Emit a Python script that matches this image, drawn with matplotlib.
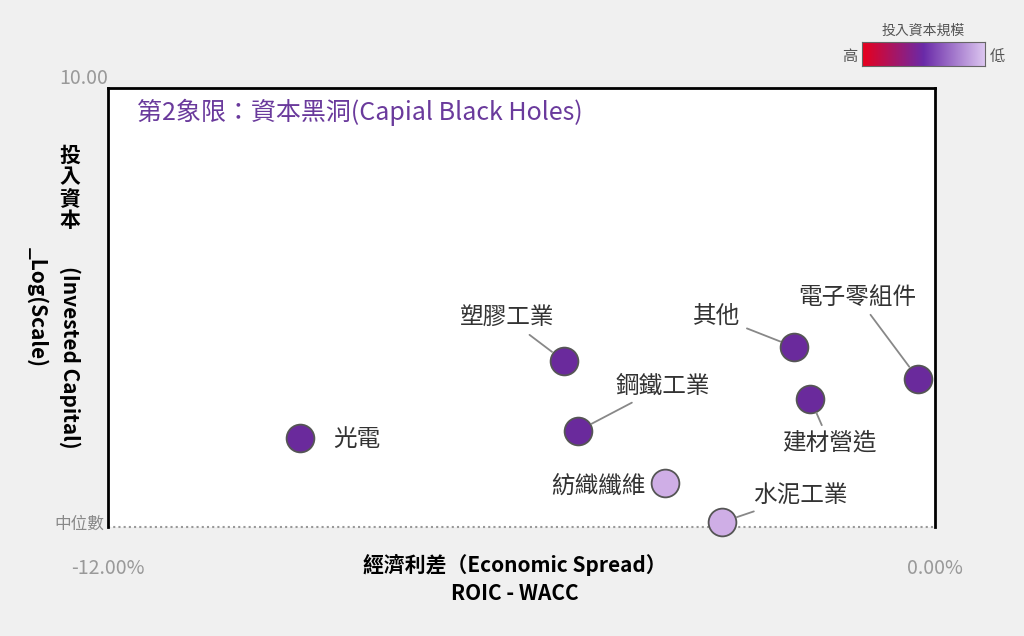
import matplotlib
matplotlib.use("Agg")
import matplotlib.pyplot as plt
import numpy as np
from matplotlib.colors import LinearSegmentedColormap

plt.rcParams['font.family'] = ['Noto Sans CJK TC', 'DejaVu Sans']

industries = ["光電", "塑膠工業", "鋼鐵工業", "紡織纖維", "水泥工業", "其他", "建材營造", "電子零組件"]
spread = [-9.21, -5.38, -5.18, -3.92, -3.09, -2.04, -1.81, -0.24]
log_capital = [2.03, 3.78, 2.19, 1.00, 0.11, 4.10, 2.92, 3.37]
scale_level = ["mid", "mid", "mid", "low", "low", "mid", "mid", "mid"]
# label offsets in points (dx, dy), alignment, leader line
label_off = [(24, -1), (-41, 31), (27, 32), (-14, -2), (22, 19), (-39, 22), (14, -32), (-44, 59)]
label_ha = ["left", "center", "left", "right", "left", "right", "center", "center"]
leader = [False, True, True, False, True, True, True, True]

colors = {"mid": "#6a2a9c", "low": "#cfaee6"}

fig = plt.figure(figsize=(10.24, 6.36), dpi=100, facecolor="#f0f0f0")
ax = fig.add_axes([0.1055, 0.1714, 0.8076, 0.690])
ax.set_xlim(-12, 0)
ax.set_ylim(0, 10)
ax.set_facecolor("white")
for s in ["left", "top", "right"]:
    ax.spines[s].set_color("black")
    ax.spines[s].set_linewidth(2)
ax.spines["bottom"].set_visible(False)
ax.axhline(0, color="#999999", ls=(0, (1, 1.5)), lw=1.5, clip_on=False)
ax.set_xticks([])
ax.set_yticks([])

for name, x, y, lv, off, ha, ld in zip(industries, spread, log_capital, scale_level, label_off, label_ha, leader):
    ax.scatter(x, y, s=400, color=colors[lv], edgecolor="#555555", lw=1.3, zorder=3, clip_on=False)
    ax.annotate(name, (x, y), xytext=off, textcoords="offset points", fontsize=17, color="#333333",
                ha=ha, va="center",
                arrowprops=dict(arrowstyle="-", color="#888888", lw=1.3, shrinkA=3, shrinkB=11) if ld else None)

ax.text(0.035, 0.975, "第2象限：資本黑洞(Capial Black Holes)", transform=ax.transAxes,
        fontsize=18, fontweight="medium", color="#6a3a9c", va="top", ha="left")

fig.text(108/1024, 1-78/636, "10.00", fontsize=14, color="#999999", ha="right", va="center")
fig.text(104/1024, 1-524/636, "中位數", fontsize=12, color="#888888", ha="right", va="center")
fig.text(108/1024, 1-568/636, "-12.00%", fontsize=14, color="#999999", ha="center", va="center")
fig.text(935/1024, 1-568/636, "0.00%", fontsize=14, color="#999999", ha="center", va="center")
fig.text(515/1024, 1-565/636, "經濟利差（Economic Spread）", fontsize=15, fontweight="bold", ha="center", va="center")
fig.text(515/1024, 1-593/636, "ROIC - WACC", fontsize=15, fontweight="bold", ha="center", va="center")

fig.text(70/1024, 1-188/636, "投\n入\n資\n本", fontsize=15, fontweight="bold", ha="center", va="center", linespacing=1.05)
fig.text(70/1024, 1-357/636, "(Invested Capital)", fontsize=15, fontweight="bold", rotation=270, ha="center", va="center")
fig.text(38/1024, 1-307/636, "_Log(Scale)", fontsize=15, fontweight="bold", rotation=270, ha="center", va="center")

# colorbar legend
cmap = LinearSegmentedColormap.from_list("cap", ["#e8001c", "#6a2aa8", "#dcc6f0"])
cax = fig.add_axes([862/1024, 1-66/636, 123/1024, 24/636])
cax.imshow(np.linspace(0, 1, 256)[None, :], aspect="auto", cmap=cmap)
cax.set_xticks([]); cax.set_yticks([])
for s in cax.spines.values():
    s.set_color("#666666")
fig.text(923/1024, 1-31/636, "投入資本規模", fontsize=10, color="#555555", ha="center", va="center")
fig.text(850/1024, 1-56/636, "高", fontsize=11, color="#555555", ha="center", va="center")
fig.text(997/1024, 1-56/636, "低", fontsize=11, color="#555555", ha="center", va="center")

fig.savefig("out.png", dpi=100, facecolor=fig.get_facecolor())
